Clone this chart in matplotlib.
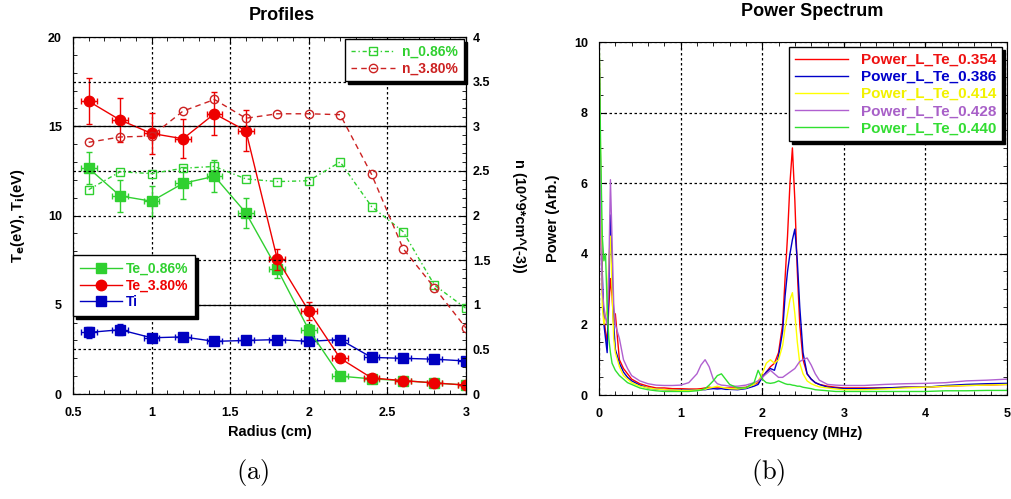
import matplotlib
matplotlib.use("Agg")
import matplotlib.pyplot as plt
from matplotlib.lines import Line2D
from matplotlib.ticker import MultipleLocator, FuncFormatter

plt.rcParams['font.family'] = ['Liberation Sans', 'DejaVu Sans']
plt.rcParams['font.weight'] = 'bold'

# ---- Profiles data ----
radius = [0.6, 0.8, 1.0, 1.2, 1.4, 1.6, 1.8, 2.0, 2.2, 2.4, 2.6, 2.8, 3.0]
te_086 = [12.65, 11.1, 10.8, 11.8, 12.2, 10.15, 7.0, 3.6, 1.0, 0.85, 0.75, 0.62, 0.5]
te_086_err = [0.9, 0.9, 0.85, 0.9, 0.9, 0.85, 0.5, 0.3, 0.15, 0.1, 0.1, 0.1, 0.1]
te_380 = [16.4, 15.35, 14.6, 14.3, 15.7, 14.75, 7.55, 4.65, 2.0, 0.9, 0.75, 0.62, 0.5]
te_380_err = [1.3, 1.25, 1.15, 1.1, 1.2, 1.15, 0.6, 0.5, 0.15, 0.1, 0.1, 0.1, 0.1]
ti = [3.45, 3.6, 3.15, 3.2, 2.95, 3.0, 3.05, 2.95, 3.05, 2.05, 2.0, 1.95, 1.85]
ti_err = [0.3, 0.3, 0.15, 0.15, 0.15, 0.15, 0.1, 0.1, 0.1, 0.1, 0.1, 0.1, 0.1]
n_086 = [2.29, 2.49, 2.47, 2.53, 2.55, 2.41, 2.38, 2.39, 2.60, 2.10, 1.82, 1.22, 0.96]
n_380 = [2.82, 2.88, 2.89, 3.17, 3.30, 3.09, 3.14, 3.14, 3.13, 2.46, 1.63, 1.19, 0.74]
r_err = 0.05

# ---- Power spectrum data ----
freq = [0.0, 0.02, 0.04, 0.06, 0.08, 0.10, 0.12, 0.14, 0.16, 0.18, 0.20, 0.25,
        0.30, 0.35, 0.40, 0.50, 0.60, 0.70, 0.80, 0.90, 1.00, 1.10, 1.20, 1.25,
        1.30, 1.35, 1.40, 1.45, 1.50, 1.55, 1.60, 1.70, 1.80, 1.90, 1.95, 2.00,
        2.05, 2.10, 2.15, 2.20, 2.25, 2.28, 2.31, 2.34, 2.37, 2.40, 2.43, 2.46,
        2.50, 2.55, 2.60, 2.65, 2.70, 2.80, 2.90, 3.00, 3.25, 3.50, 3.75, 4.00,
        4.25, 4.50, 4.75, 5.00]
p_354 = [10.5, 5.0, 3.0, 2.2, 1.8, 1.5, 2.5, 3.3, 2.8, 2.0, 2.3, 1.0,
         0.75, 0.6, 0.45, 0.32, 0.25, 0.2, 0.2, 0.18, 0.18, 0.17, 0.17, 0.18,
         0.2, 0.22, 0.2, 0.2, 0.2, 0.2, 0.2, 0.2, 0.22, 0.3, 0.35, 0.5,
         0.65, 0.8, 0.9, 1.2, 2.0, 3.3, 4.5, 6.0, 7.0, 5.5, 3.5, 2.0,
         1.0, 0.6, 0.45, 0.35, 0.3, 0.25, 0.22, 0.2, 0.2, 0.2, 0.22, 0.22,
         0.25, 0.27, 0.28, 0.3]
p_386 = [10.5, 6.0, 3.5, 2.0, 1.6, 1.2, 3.0, 5.1, 3.5, 2.0, 1.3, 0.9,
         0.65, 0.5, 0.4, 0.28, 0.2, 0.17, 0.15, 0.14, 0.14, 0.14, 0.14, 0.15,
         0.15, 0.17, 0.18, 0.17, 0.18, 0.16, 0.16, 0.15, 0.18, 0.25, 0.3, 0.5,
         0.65, 0.75, 0.7, 1.1, 1.8, 2.8, 3.5, 4.0, 4.4, 4.7, 3.8, 2.5,
         1.2, 0.6, 0.45, 0.35, 0.3, 0.22, 0.2, 0.18, 0.18, 0.2, 0.22, 0.22,
         0.27, 0.3, 0.32, 0.33]
p_414 = [10.5, 6.5, 2.5, 2.0, 2.2, 2.4, 3.8, 4.5, 3.0, 1.6, 1.2, 0.8,
         0.55, 0.45, 0.35, 0.25, 0.2, 0.17, 0.15, 0.14, 0.13, 0.13, 0.14, 0.15,
         0.16, 0.2, 0.22, 0.25, 0.22, 0.2, 0.18, 0.17, 0.2, 0.3, 0.4, 0.6,
         0.9, 1.0, 0.9, 1.0, 1.4, 1.9, 2.3, 2.7, 2.9, 2.3, 1.5, 0.9,
         0.6, 0.4, 0.32, 0.27, 0.23, 0.2, 0.17, 0.15, 0.15, 0.17, 0.2, 0.22,
         0.25, 0.27, 0.28, 0.3]
p_428 = [10.5, 4.5, 3.0, 2.5, 2.2, 2.0, 3.5, 6.1, 4.4, 2.6, 2.0, 1.6,
         1.0, 0.75, 0.55, 0.4, 0.32, 0.28, 0.27, 0.27, 0.28, 0.35, 0.6, 0.85,
         1.0, 0.8, 0.45, 0.32, 0.28, 0.27, 0.25, 0.25, 0.28, 0.35, 0.4, 0.5,
         0.6, 0.7, 0.6, 0.5, 0.5, 0.55, 0.6, 0.65, 0.7, 0.75, 0.85, 0.95,
         1.0, 1.05, 0.85, 0.6, 0.42, 0.3, 0.28, 0.27, 0.27, 0.3, 0.32, 0.33,
         0.35, 0.4, 0.42, 0.45]
p_440 = [10.5, 7.0, 4.5, 3.8, 4.0, 2.5, 1.6, 1.2, 0.9, 0.8, 0.7, 0.55,
         0.45, 0.35, 0.3, 0.2, 0.15, 0.12, 0.1, 0.1, 0.1, 0.1, 0.12, 0.14,
         0.18, 0.28, 0.4, 0.55, 0.6, 0.45, 0.3, 0.2, 0.2, 0.35, 0.7, 0.45,
         0.35, 0.33, 0.35, 0.4, 0.35, 0.32, 0.3, 0.3, 0.28, 0.27, 0.25, 0.25,
         0.22, 0.2, 0.18, 0.15, 0.14, 0.12, 0.1, 0.1, 0.1, 0.1, 0.1, 0.1,
         0.12, 0.12, 0.13, 0.13]
spec_labels = ['Power_L_Te_0.354', 'Power_L_Te_0.386', 'Power_L_Te_0.414',
               'Power_L_Te_0.428', 'Power_L_Te_0.440']
spec_colors = ['#ff0000', '#0000c8', '#ffff00', '#b060d0', '#30e030']
spec_text_colors = ['#ee1111', '#0000cc', '#f2f200', '#a860c8', '#33dd33']

green = '#30d030'
red = '#ee0000'
nred = '#cc2222'
blue = '#0000c0'
fmt = FuncFormatter(lambda v, p: f'{v:g}')

fig = plt.figure(figsize=(10.12, 4.99), dpi=100)

# ---------------- Profiles ----------------
ax = fig.add_axes([0.0721, 0.2104, 0.3883, 0.7154])
ax2 = ax.twinx()

ax.errorbar(radius, ti, yerr=ti_err, xerr=r_err, color=blue, marker='s', ms=7,
            lw=1, capsize=2, elinewidth=1, zorder=3)
ax.errorbar(radius, te_086, yerr=te_086_err, xerr=r_err, color=green, marker='s', ms=7,
            lw=1, capsize=2, elinewidth=1, zorder=4)
ax.errorbar(radius, te_380, yerr=te_380_err, xerr=r_err, color=red, marker='o', ms=7.5,
            lw=1, capsize=2, elinewidth=1, zorder=5)

ax2.plot(radius, n_086, color=green, ls=(0, (3, 2, 1, 2)), lw=1, marker='s', ms=6,
         mfc='none', mec=green, label='n_0.86%')
ax2.plot(radius, n_380, color=nred, ls=(0, (4, 3)), lw=1, marker='o', ms=6,
         mfc='none', mec=nred, label='n_3.80%')

ax.set_xlim(0.5, 3)
ax.set_ylim(0, 20)
ax2.set_ylim(0, 4)
ax.xaxis.set_major_locator(MultipleLocator(0.5))
ax.xaxis.set_minor_locator(MultipleLocator(0.1))
ax.xaxis.set_major_formatter(fmt)
ax.yaxis.set_major_locator(MultipleLocator(5))
ax.yaxis.set_minor_locator(MultipleLocator(1))
ax2.yaxis.set_major_locator(MultipleLocator(0.5))
ax2.yaxis.set_minor_locator(MultipleLocator(0.1))
ax2.yaxis.set_major_formatter(fmt)

ax.xaxis.grid(True, ls=(0, (2, 2)), color='k', lw=0.9)
ax2.yaxis.grid(True, ls=(0, (2, 2)), color='k', lw=0.9)
for yv in (5, 15):
    ax.axhline(yv, color='k', lw=0.9, zorder=1)

ax.tick_params(which='both', direction='in', top=True, right=False, labelsize=9)
ax.tick_params(which='major', length=5)
ax.tick_params(which='minor', length=3)
ax.tick_params(axis='x', pad=9)
ax.tick_params(axis='y', pad=8)
ax2.tick_params(which='both', direction='in', labelsize=9, pad=5)
ax2.tick_params(which='major', length=5)
ax2.tick_params(which='minor', length=3)

ax.set_xlabel('Radius (cm)', fontsize=10.5, weight='bold', labelpad=5)
ax.set_ylabel(r'T$_{\mathbf{e}}$(eV), T$_{\mathbf{i}}$(eV)', fontsize=10.5, weight='bold',
              math_fontfamily='dejavusans', labelpad=15)
ax2.set_ylabel('n (10^9*cm^(-3))', fontsize=10.5, weight='bold', rotation=-90,
               labelpad=26)

# Te / Ti legend sits on the twin axes so it covers the grid lines
te_handles = [Line2D([], [], color=green, marker='s', ms=7, lw=1),
              Line2D([], [], color=red, marker='o', ms=7.5, lw=1),
              Line2D([], [], color=blue, marker='s', ms=7, lw=1)]
leg1 = ax2.legend(te_handles, ['Te_0.86%', 'Te_3.80%', 'Ti'], loc='upper left',
                  bbox_to_anchor=(0.0, 0.39), borderaxespad=0, fancybox=False,
                  edgecolor='k', framealpha=1, shadow={'color': 'k', 'alpha': 1},
                  fontsize=10, handlelength=3.0, labelspacing=0.2, handletextpad=0.3,
                  borderpad=0.5)
for t, c in zip(leg1.get_texts(), [green, red, blue]):
    t.set_color(c)
ax2.add_artist(leg1)

leg2 = ax2.legend(loc='upper right', bbox_to_anchor=(1.0, 1.0), borderaxespad=0.15,
                  fancybox=False, edgecolor='k', framealpha=1,
                  shadow={'color': 'k', 'alpha': 1}, fontsize=10, handlelength=3.2,
                  labelspacing=0.2, handletextpad=0.5)
for t, c in zip(leg2.get_texts(), [green, nred]):
    t.set_color(c)

fig.text(282 / 1012, 1 - 15 / 499, 'Profiles', ha='center', va='center',
         fontsize=13, weight='bold')
fig.text(253 / 1012, 1 - 473 / 499, r'$\mathrm{(a)}$', ha='center', va='center',
         fontsize=19, math_fontfamily='cm')

# ---------------- Power spectrum ----------------
axs = fig.add_axes([0.5919, 0.2084, 0.4032, 0.7074])
for series, lab, col in zip([p_354, p_386, p_414, p_428, p_440], spec_labels, spec_colors):
    axs.plot(freq, series, color=col, lw=1, label=lab)

axs.set_xlim(0, 5)
axs.set_ylim(0, 10)
axs.xaxis.set_major_locator(MultipleLocator(1))
axs.xaxis.set_minor_locator(MultipleLocator(0.2))
axs.yaxis.set_major_locator(MultipleLocator(2))
axs.yaxis.set_minor_locator(MultipleLocator(0.5))
axs.grid(True, ls=(0, (2, 2)), color='k', lw=0.9)
axs.tick_params(which='both', direction='in', top=True, right=True, labelsize=9)
axs.tick_params(which='major', length=5)
axs.tick_params(which='minor', length=3)
axs.tick_params(axis='x', pad=9)
axs.tick_params(axis='y', pad=8)
axs.set_xlabel('Frequency (MHz)', fontsize=10.5, weight='bold', labelpad=5)
axs.set_ylabel('Power (Arb.)', fontsize=10.5, weight='bold', labelpad=10)

leg3 = axs.legend(loc='upper right', bbox_to_anchor=(0.988, 0.986), borderaxespad=0,
                  fancybox=False, edgecolor='k', framealpha=1,
                  shadow={'color': 'k', 'alpha': 1}, fontsize=11, handlelength=3.5,
                  labelspacing=0.2)
for t, c in zip(leg3.get_texts(), spec_text_colors):
    t.set_color(c)

fig.text(812 / 1012, 1 - 12 / 499, 'Power Spectrum', ha='center', va='center',
         fontsize=13, weight='bold')
fig.text(768 / 1012, 1 - 473 / 499, r'$\mathrm{(b)}$', ha='center', va='center',
         fontsize=19, math_fontfamily='cm')

fig.savefig('out.png', dpi=100)
